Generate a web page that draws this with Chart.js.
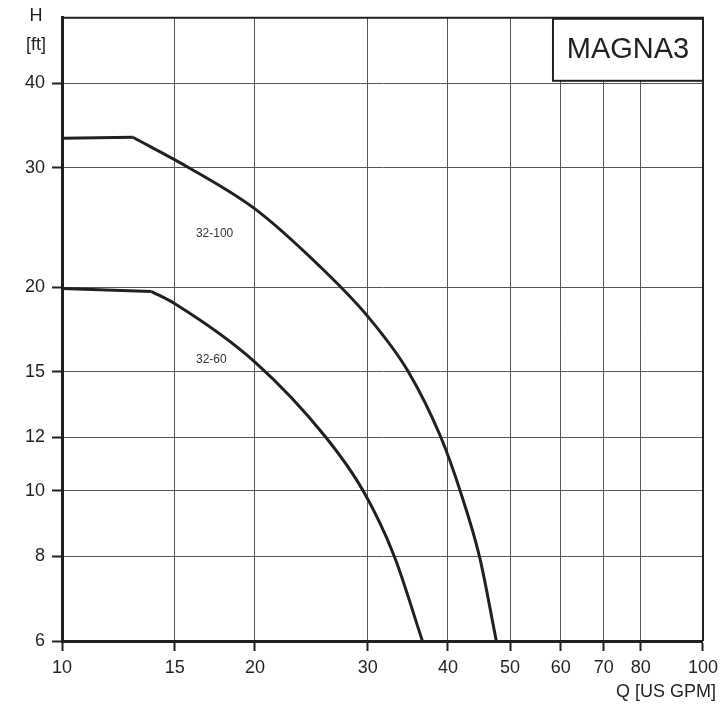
<!DOCTYPE html>
<html lang="en">
<head>
    <meta charset="UTF-8">
    <title>MAGNA3 pump curves</title>
    <script src="https://cdn.jsdelivr.net/npm/chart.js"></script>
    <style>
        body {
            margin: 0;
            background-color: #ffffff;
        }
        .chart-box {
            position: relative;
            width: 724px;
            height: 709px;
        }
    </style>
</head>
<body>
    <div class="chart-box">
        <canvas id="pumpChart"></canvas>
    </div>

    <script>
        // tick values of the log-log grid
        const xTicks = [10, 15, 20, 30, 40, 50, 60, 70, 80, 100];
        const yTicks = [6, 8, 10, 12, 15, 20, 30, 40, 50];

        // 32-100: shut-off part and falling part
        const flow100Flat = [10, 12.9];
        const head100Flat = [33.2, 33.3];
        const flow100 = [12.9, 15.8, 20, 25.2, 30, 34.7, 39, 41.8, 44.8, 47.6];
        const head100 = [33.3, 30, 26.1, 21.5, 18.1, 15, 12, 10, 8, 6];

        // 32-60
        const flow60Flat = [10, 13.8];
        const head60Flat = [19.9, 19.7];
        const flow60 = [13.8, 15, 20, 25.8, 29.5, 33, 36.5];
        const head60 = [19.7, 18.9, 15.5, 12, 10, 8, 6];

        const curveNames = ['32-100', '32-60'];

        function points(xs, ys) {
            return xs.map((v, i) => ({ x: v, y: ys[i] }));
        }

        function curve(label, xs, ys, mode) {
            return {
                label: label,
                data: points(xs, ys),
                borderColor: '#231f20',
                borderWidth: 3,
                pointRadius: 0,
                fill: false,
                cubicInterpolationMode: mode
            };
        }

        // text and frame drawn on top of the chart area
        const decor = {
            id: 'decor',
            afterDraw(chart) {
                const { ctx, chartArea: a, scales } = chart;
                const x = scales.x, y = scales.y;
                ctx.save();

                // top and right frame
                ctx.strokeStyle = '#231f20';
                ctx.lineWidth = 2;
                ctx.beginPath();
                ctx.moveTo(a.left, a.top);
                ctx.lineTo(a.right, a.top);
                ctx.lineTo(a.right, a.bottom);
                ctx.stroke();

                // MAGNA3 box
                const bw = 150, bh = 62;
                ctx.fillStyle = '#ffffff';
                ctx.fillRect(a.right - bw, a.top + 1, bw, bh);
                ctx.strokeRect(a.right - bw, a.top + 1, bw, bh);
                ctx.fillStyle = '#231f20';
                ctx.font = '29px "Liberation Sans", Arial, sans-serif';
                ctx.textAlign = 'center';
                ctx.textBaseline = 'middle';
                ctx.fillText('MAGNA3', a.right - bw / 2, a.top + 1 + bh / 2);

                // curve names
                ctx.font = '12px "Liberation Sans", Arial, sans-serif';
                ctx.fillStyle = '#333340';
                ctx.fillText(curveNames[0], x.getPixelForValue(17.3), y.getPixelForValue(24.0));
                ctx.fillText(curveNames[1], x.getPixelForValue(17.1), y.getPixelForValue(15.6));

                // axis titles
                ctx.font = '18px "Liberation Sans", Arial, sans-serif';
                ctx.fillStyle = '#231f20';
                ctx.fillText('H', 36, 16);
                ctx.fillText('[ft]', 36, 45);
                ctx.textAlign = 'right';
                ctx.fillText('Q [US GPM]', 716, 692);

                ctx.restore();
            }
        };

        Chart.defaults.font.family = '"Liberation Sans", Arial, sans-serif';
        Chart.defaults.font.size = 18;
        Chart.defaults.color = '#231f20';

        const ctx = document.getElementById('pumpChart').getContext('2d');
        new Chart(ctx, {
            type: 'line',
            data: {
                datasets: [
                    curve('32-100 flat', flow100Flat, head100Flat, 'default'),
                    curve('32-100', flow100, head100, 'monotone'),
                    curve('32-60 flat', flow60Flat, head60Flat, 'default'),
                    curve('32-60', flow60, head60, 'monotone')
                ]
            },
            options: {
                responsive: true,
                maintainAspectRatio: false,
                animation: false,
                layout: {
                    padding: { top: 17, right: 21, left: 0, bottom: 0 }
                },
                plugins: {
                    legend: { display: false },
                    tooltip: { enabled: false }
                },
                scales: {
                    x: {
                        type: 'logarithmic',
                        min: 10,
                        max: 100,
                        afterBuildTicks: s => { s.ticks = xTicks.map(v => ({ value: v })); },
                        afterFit: s => { s.height = 68; },
                        ticks: {
                            autoSkip: false,
                            maxRotation: 0,
                            minRotation: 0,
                            padding: 6,
                            callback: v => String(v)
                        },
                        grid: {
                            color: '#555555',
                            lineWidth: 1,
                            tickLength: 10,
                            tickColor: '#231f20',
                            tickWidth: 2
                        },
                        border: { display: true, width: 3, color: '#231f20' }
                    },
                    y: {
                        type: 'logarithmic',
                        min: 6,
                        max: 50,
                        afterBuildTicks: s => { s.ticks = yTicks.map(v => ({ value: v })); },
                        afterFit: s => { s.width = 62; },
                        ticks: {
                            padding: 7,
                            callback: v => (v === 50 ? '' : String(v))
                        },
                        grid: {
                            color: '#555555',
                            lineWidth: 1,
                            tickLength: 10,
                            tickColor: c => (c.tick && c.tick.value === 50 ? 'rgba(0,0,0,0)' : '#231f20'),
                            tickWidth: 2
                        },
                        border: { display: true, width: 3, color: '#231f20' }
                    }
                }
            },
            plugins: [decor]
        });
    </script>
</body>
</html>
